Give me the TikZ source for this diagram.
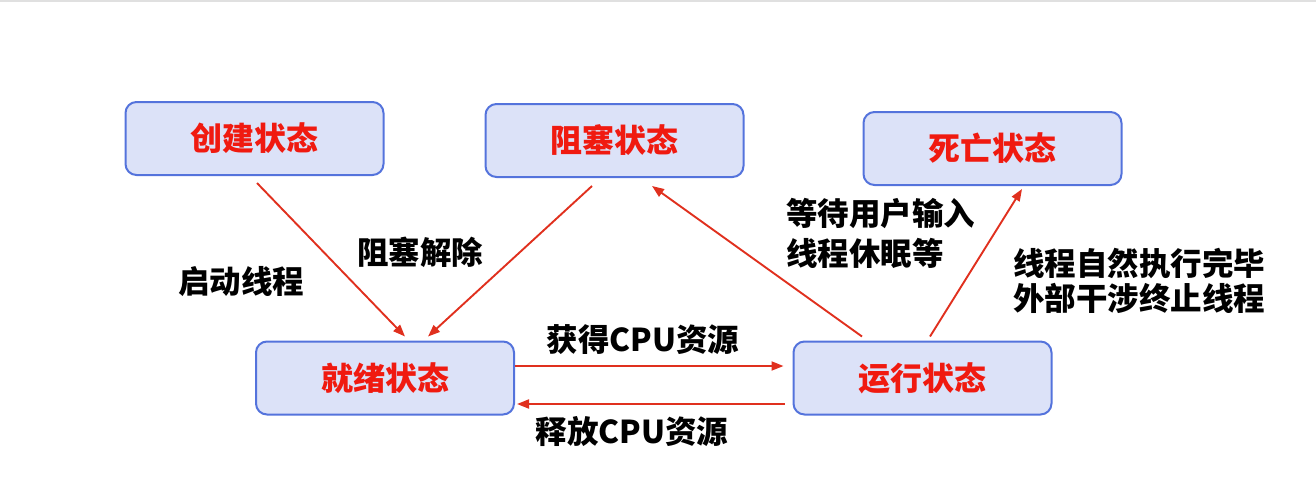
\documentclass[tikz,border=0pt]{standalone}
\usepackage{fontspec}
\newfontfamily\cjk{Noto Sans CJK SC}
\usetikzlibrary{arrows.meta}
\definecolor{boxfill}{HTML}{DCE2F8}
\definecolor{boxline}{HTML}{5473DC}
\definecolor{stred}{HTML}{F01A10}
\definecolor{arrred}{HTML}{E0301E}
\tikzset{
  state/.style={draw=boxline, line width=2pt, fill=boxfill, rounded corners=11pt,
    minimum width=258pt, minimum height=73pt, inner sep=0pt,
    font=\cjk\bfseries\fontsize{32}{38}\selectfont, text=stred},
  lbl/.style={font=\cjk\bfseries\fontsize{31.5}{40}\selectfont, text=black, inner sep=0pt},
  arr/.style={draw=arrred, line width=1.9pt, -{Triangle[length=12pt,width=9pt]}}
}
\begin{document}
\begin{tikzpicture}[x=1pt,y=-1pt]
\useasboundingbox (0,0) rectangle (1316,488);
% thin rule along the upper edge
\draw[draw=black!12, line width=2pt] (0,1) -- (1316,1);

% states
\node[state] (cj) at (254.5,138.5) {创建状态};
\node[state] (zs) at (614.5,140.5) {阻塞状态};
\node[state] (sw) at (992.5,148.5) {死亡状态};
\node[state] (jx) at (385,378) {就绪状态};
\node[state] (yx) at (922.5,378) {运行状态};

% transitions
\draw[arr] ([shift={(2.5,7)}]cj.south) -- ([shift={(20,-4)}]jx.north);
\draw[arr] ([shift={(-22.5,8)}]zs.south) -- ([shift={(43,-4)}]jx.north);
\draw[arr] ([shift={(-60.5,-4)}]yx.north) -- ([shift={(37.5,8)}]zs.south);
\draw[arr] ([shift={(7.5,-4)}]yx.north) -- ([shift={(29.5,3)}]sw.south);
\draw[arr] ([shift={(0,-12)}]jx.east) -- ([shift={(-9,-12)}]yx.west);
\draw[arr] ([shift={(-8,26)}]yx.west) -- ([shift={(2,26)}]jx.east);

% transition labels
\node[lbl] (l1) at (241,282) {启动线程};
\node[lbl] (l2) at (420,252) {阻塞解除};
\node[lbl, anchor=west, align=left] (l3) at (786,233) {等待用户输入\\线程休眠等};
\node[lbl, anchor=west, align=left, font=\cjk\bfseries\fontsize{31.5}{35}\selectfont] (l4) at (1013,281) {线程自然执行完毕\\外部干涉终止线程};
\node[lbl] (l5) at (643,340) {获得CPU资源};
\node[lbl] (l6) at (632,431) {释放CPU资源};
\end{tikzpicture}
\end{document}
